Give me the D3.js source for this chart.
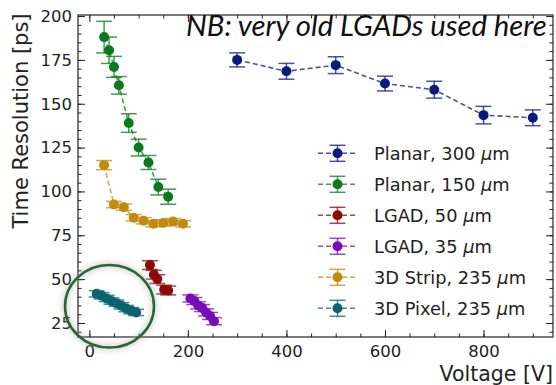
<!DOCTYPE html>
<html><head><meta charset="utf-8">
<script src="https://cdn.jsdelivr.net/npm/d3@7"></script>
<style>
body{margin:0;background:#fff;}
svg{display:block;}
</style></head>
<body>
<svg id="chart" width="556" height="385"></svg>
<script>
// ---- data ----
const seriesNames = ["Planar, 300","Planar, 150","LGAD, 50","LGAD, 35","3D Strip, 235","3D Pixel, 235"];
const unitMu = "\u03bc";
const unitM = "m";
const seriesColors = ["#0b1a80","#0a7a1e","#8b0a0a","#7a0cb8","#c18a10","#0a6470"];

const planar300X = [300,400,500,600,700,800,900];
const planar300Y = [175,168.5,172,161.5,158,143.5,142];
const planar300E = [4,4.5,4.8,4.2,4.8,5,4.5];

const planar150X = [30,40,50,60,80,100,120,140,160];
const planar150Y = [188,180.5,171,160.5,139,125,116.5,102.5,97];
const planar150E = [9,7.5,6,5,5.3,4.8,4,4.5,4.3];

const lgad50X = [123,131,138,152,160];
const lgad50Y = [58,52.5,50,44,43.5];
const lgad50E = [2.5,2.5,2.5,2.5,2.5];

const lgad35X = [205,213,221,229,237,245,253];
const lgad35Y = [39,37.5,35,33.5,31,29,26];
const lgad35E = [2,2,2,2,2,2,2];

const strip3dX = [30,50,70,90,110,130,150,170,190];
const strip3dY = [115,92.5,91,85,83.3,81.6,82,82.8,81.6];
const strip3dE = [2.6,1.8,1.8,1.8,1.8,1.8,1.8,1.8,1.8];

const pixel3dX = [15,25,35,45,55,65,75,85,95];
const pixel3dY = [41.6,40.5,39,37.5,36.3,34.8,33.2,32,31];
const pixel3dE = [1.8,1.8,1.8,1.8,1.8,1.8,1.8,1.8,1.8];

const xTicks = [0,200,400,600,800];
const yTicks = [25,50,75,100,125,150,175,200];
const xLabel = "Voltage [V]";
const yLabel = "Time Resolution [ps]";
const noteText = "NB: very old LGADs used here";

const allX = [planar300X,planar150X,lgad50X,lgad35X,strip3dX,pixel3dX];
const allY = [planar300Y,planar150Y,lgad50Y,lgad35Y,strip3dY,pixel3dY];
const allE = [planar300E,planar150E,lgad50E,lgad35E,strip3dE,pixel3dE];

// ---- layout ----
const L=78, R=553, T=15, B=337;
const svg = d3.select("#chart");
const x = d3.scaleLinear().domain([-23,941]).range([L,R]);
const y = d3.scaleLinear().domain([17,200.6]).range([B,T]);

const defs = svg.append("defs");
const f = defs.append("filter").attr("id","shadow").attr("x","-30%").attr("y","-30%").attr("width","160%").attr("height","160%");
f.append("feGaussianBlur").attr("stdDeviation",3);

const font = "DejaVu Sans, sans-serif";
const tickCol = "#222";

function styleAxis(g){
  g.select(".domain").remove();
  g.selectAll("line").attr("stroke",tickCol).attr("stroke-width",1);
  g.selectAll("text").attr("font-family",font).attr("font-size",16.5).attr("fill",tickCol);
}
const xMinor = d3.range(0,950,50).filter(v=>v<=941);
const yMinor = d3.range(20,201,5);

svg.append("g").attr("transform",`translate(0,${B})`)
  .call(d3.axisBottom(x).tickValues(xMinor).tickFormat("").tickSizeInner(-3.5).tickSizeOuter(0)).call(styleAxis);
svg.append("g").attr("transform",`translate(0,${B})`)
  .call(d3.axisBottom(x).tickValues(xTicks).tickSizeInner(-7).tickSizeOuter(0).tickPadding(8)).call(styleAxis);
svg.append("g").attr("transform",`translate(0,${T})`)
  .call(d3.axisTop(x).tickValues(xMinor).tickFormat("").tickSizeInner(-3.5).tickSizeOuter(0)).call(styleAxis);
svg.append("g").attr("transform",`translate(0,${T})`)
  .call(d3.axisTop(x).tickValues(xTicks).tickFormat("").tickSizeInner(-7).tickSizeOuter(0)).call(styleAxis);

svg.append("g").attr("transform",`translate(${L},0)`)
  .call(d3.axisLeft(y).tickValues(yMinor).tickFormat("").tickSizeInner(-3.5).tickSizeOuter(0)).call(styleAxis);
svg.append("g").attr("transform",`translate(${L},0)`)
  .call(d3.axisLeft(y).tickValues(yTicks).tickSizeInner(-7).tickSizeOuter(0).tickPadding(6)).call(styleAxis);
svg.append("g").attr("transform",`translate(${R},0)`)
  .call(d3.axisRight(y).tickValues(yMinor).tickFormat("").tickSizeInner(-3.5).tickSizeOuter(0)).call(styleAxis);
svg.append("g").attr("transform",`translate(${R},0)`)
  .call(d3.axisRight(y).tickValues(yTicks).tickFormat("").tickSizeInner(-7).tickSizeOuter(0)).call(styleAxis);

svg.append("rect").attr("x",L).attr("y",T).attr("width",R-L).attr("height",B-T)
  .attr("fill","none").attr("stroke",tickCol).attr("stroke-width",1.2);

// axis labels
svg.append("text").attr("x",R).attr("y",381).attr("text-anchor","end")
  .attr("font-family",font).attr("font-size",20.5).attr("fill",tickCol).text(xLabel);
svg.append("text").attr("transform",`translate(28,121) rotate(-90)`).attr("text-anchor","middle")
  .attr("font-family",font).attr("font-size",21).attr("fill",tickCol).text(yLabel);

// series
const capW = 8;
const line = d3.line().x(d=>x(d[0])).y(d=>y(d[1]));
allX.forEach((xs,i)=>{
  const col = seriesColors[i];
  const pts = xs.map((v,j)=>[v, allY[i][j], allE[i][j]]);
  const g = svg.append("g");
  g.append("path").attr("d",line(pts)).attr("fill","none").attr("stroke",col)
    .attr("stroke-opacity",0.75).attr("stroke-width",1.6).attr("stroke-dasharray","5,3");
  const eb = g.selectAll(".eb").data(pts).enter().append("g");
  eb.append("line").attr("x1",d=>x(d[0])).attr("x2",d=>x(d[0]))
    .attr("y1",d=>y(d[1]-d[2])).attr("y2",d=>y(d[1]+d[2]))
    .attr("stroke",col).attr("stroke-opacity",0.75).attr("stroke-width",1.5);
  [1,-1].forEach(s=>{
    eb.append("line").attr("x1",d=>x(d[0])-capW).attr("x2",d=>x(d[0])+capW)
      .attr("y1",d=>y(d[1]+s*d[2])).attr("y2",d=>y(d[1]+s*d[2]))
      .attr("stroke",col).attr("stroke-opacity",0.75).attr("stroke-width",1.5);
  });
  g.selectAll(".pt").data(pts).enter().append("circle")
    .attr("cx",d=>x(d[0])).attr("cy",d=>y(d[1])).attr("r",5).attr("fill",col);
});

// legend
const lgX0=318, lgX1=357, lgT=153.3, lgStep=31;
seriesNames.forEach((name,i)=>{
  const col = seriesColors[i];
  const cy = lgT + i*lgStep, cx=(lgX0+lgX1)/2;
  const g = svg.append("g");
  g.append("line").attr("x1",lgX0).attr("x2",lgX1).attr("y1",cy).attr("y2",cy)
    .attr("stroke",col).attr("stroke-opacity",0.75).attr("stroke-width",1.6).attr("stroke-dasharray","5,3");
  g.append("line").attr("x1",cx).attr("x2",cx).attr("y1",cy-8).attr("y2",cy+8)
    .attr("stroke",col).attr("stroke-opacity",0.75).attr("stroke-width",1.5);
  [-8,8].forEach(o=>g.append("line").attr("x1",cx-capW).attr("x2",cx+capW).attr("y1",cy+o).attr("y2",cy+o)
    .attr("stroke",col).attr("stroke-opacity",0.75).attr("stroke-width",1.5));
  g.append("circle").attr("cx",cx).attr("cy",cy).attr("r",5).attr("fill",col);
  const t = g.append("text").attr("x",374).attr("y",cy+6.5).attr("font-family",font).attr("font-size",17.8)
    .attr("fill",tickCol);
  t.append("tspan").text(name + " ");
  t.append("tspan").attr("font-style","italic").text(unitMu);
  t.append("tspan").text(unitM);
});

// note
const note = svg.append("text").attr("x",186).attr("y",36).attr("font-family","Lato, sans-serif")
  .attr("font-style","italic").attr("font-size",24).attr("fill","#111").text(noteText);
const w = note.node().getComputedTextLength();
note.attr("font-size", 24*361/w);

// circle highlight
svg.append("ellipse").attr("cx",109.5).attr("cy",306.3).attr("rx",44.5).attr("ry",41.3)
  .attr("fill","none").attr("stroke","#999").attr("stroke-width",4).attr("opacity",0.6).attr("filter","url(#shadow)");
svg.append("ellipse").attr("cx",109.5).attr("cy",306.3).attr("rx",44.5).attr("ry",41.3)
  .attr("fill","none").attr("stroke","#2b6533").attr("stroke-width",2.5);
</script>
</body></html>
